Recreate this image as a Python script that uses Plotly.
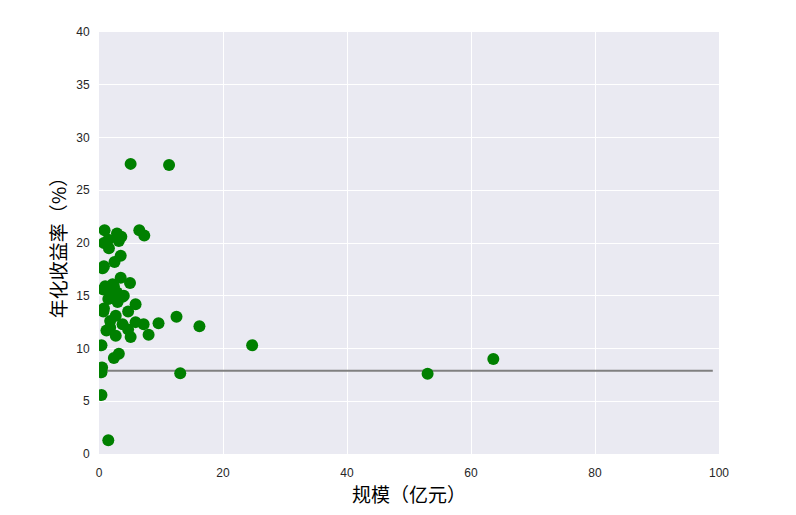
import plotly.graph_objects as go

# 规模（亿元）和年化收益率（%）
scale = [5.1, 11.3, 0.9, 6.5, 7.3, 2.9, 3.6, 3.2, 1.5, 0.8, 1.6, 3.5, 2.5, 0.8, 0.6,
         3.5, 5.0, 1.0, 2.4, 0.7, 2.9, 4.0, 1.8, 5.9, 0.8, 0.7, 4.7, 2.7, 1.8, 3.8,
         5.9, 7.2, 9.6, 1.8, 2.7, 4.7, 5.1, 8.0, 12.5, 16.2, 24.7, 0.4, 3.2, 2.4,
         0.5, 0.4, 13.1, 0.4, 1.5, 53.0, 63.6, 2.2, 3.8, 1.5, 3.0, 1.2]
annual_return = [27.5, 27.4, 21.2, 21.2, 20.7, 20.9, 20.6, 20.2, 20.3, 20.0, 19.5,
                 18.8, 18.2, 17.8, 17.6, 16.7, 16.2, 15.9, 15.9, 15.6, 15.3, 15.0,
                 15.0, 14.2, 13.8, 13.5, 13.5, 13.1, 12.6, 12.3, 12.5, 12.3, 12.4,
                 12.0, 11.2, 11.8, 11.1, 11.3, 13.0, 12.1, 10.3, 10.3, 9.5, 9.1,
                 8.2, 7.75, 7.65, 5.6, 1.3, 7.6, 9.0, 16.1, 14.9, 14.7, 14.4, 11.7]

# 基准线
baseline_x = [0, 99]
baseline_y = [7.9, 7.9]

fig = go.Figure()
fig.add_trace(go.Scatter(x=baseline_x, y=baseline_y, mode="lines",
                         line=dict(color="#808080", width=2), hoverinfo="skip"))
fig.add_trace(go.Scatter(x=scale, y=annual_return, mode="markers",
                         marker=dict(color="#008000", size=12, line=dict(width=0))))

fig.update_layout(
    width=796, height=515,
    margin=dict(l=91, r=85, t=24, b=69),
    paper_bgcolor="white",
    plot_bgcolor="#EAEAF2",
    showlegend=False,
    font=dict(family="Liberation Sans, Arial", size=12, color="#262626"),
)
# 透明刻度线用来把刻度标签推远一点
fig.update_xaxes(
    range=[0, 100], dtick=20, showgrid=True, gridcolor="white", gridwidth=1.2,
    zeroline=False, showline=False, ticks="outside", ticklen=8, tickcolor="rgba(0,0,0,0)",
    title=dict(text="规模（亿元）", font=dict(family="Noto Sans CJK SC", size=19, color="black"),
               standoff=5),
)
fig.update_yaxes(
    range=[0, 40], dtick=5, showgrid=True, gridcolor="white", gridwidth=1.2,
    zeroline=False, showline=False, ticks="outside", ticklen=6, tickcolor="rgba(0,0,0,0)",
    title=dict(text="年化收益率（%）", font=dict(family="Noto Sans CJK SC", size=19, color="black"),
               standoff=4),
)

fig.write_html("out.html")
